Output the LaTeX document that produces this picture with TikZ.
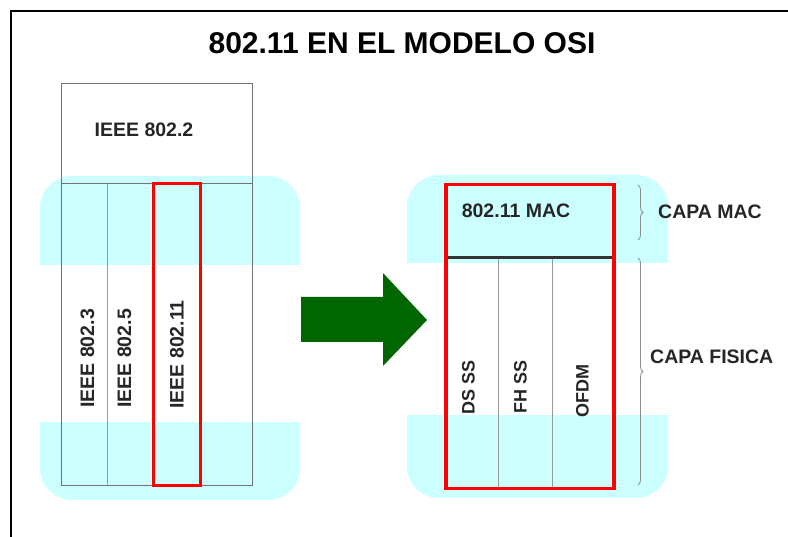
\documentclass[tikz,border=0pt]{standalone}
\usepackage{fontspec}
\setmainfont{Liberation Sans}
\usetikzlibrary{positioning,calc,decorations.pathreplacing}
\definecolor{hilite}{HTML}{CCFFFF}
\definecolor{arrowgreen}{HTML}{006600}
\definecolor{txtgray}{HTML}{262626}

\begin{document}
\begin{tikzpicture}[x=1pt,y=-1pt,
  box/.style={draw=black!55,line width=1pt,inner sep=0pt},
  col/.style={draw=black!40,line width=0.8pt,inner sep=0pt},
  redbox/.style={draw=red,line width=3.5pt,inner sep=0pt},
  lbl/.style={font=\fontsize{19.5}{20}\selectfont\bfseries,text=txtgray,inner sep=0pt},
  vlbl/.style={lbl,rotate=90},
  band/.style={fill=hilite,rounded corners=32pt},
  bracket/.style={decorate,decoration={brace,amplitude=5pt},draw=black!45,line width=0.8pt}]
\useasboundingbox (0,0) rectangle (788,537);
% frame and title
\draw[line width=2pt] (11,537) -- (11,11) -- (788,11);
\node (title) at (402,43) {\fontsize{30}{32}\selectfont\bfseries 802.11 EN EL MODELO OSI};

% highlighted bands
\fill[band] (40,176) rectangle (300,500);
\fill[white] (38,265) rectangle (302,422);
\fill[band] (407,175) rectangle (668,498);
\fill[white] (405,263) rectangle (670,415);

% left stack
\node[box,minimum width=191pt,minimum height=100pt,anchor=north west] (llc) at (61,83) {};
\node[lbl] (llctxt) at (144,130) {IEEE 802.2};
\foreach \n/\x/\w in {c1/61/46,c2/107/46,c3/153/47,c4/200/52}
  \node[col,minimum width=\w pt,minimum height=302pt,anchor=north west] (\n) at (\x,183) {};
\draw[box,fill=none] (llc.south west) rectangle (c4.south east);
\node[vlbl] (t3) at ([xshift=3pt,yshift=-24pt]c1.center) {IEEE 802.3};
\node[vlbl] (t5) at ([xshift=-6pt,yshift=-24pt]c2.center) {IEEE 802.5};
\node[vlbl] (t11) at ([yshift=-20pt]c3.center) {IEEE 802.11};
\node[redbox,minimum width=47pt,minimum height=302pt] (sel) at (c3.center) {};

% arrow
\fill[arrowgreen] (301,297) -- (383,297) -- (383,273) -- (427,320) -- (383,366) -- (383,342) -- (301,342) -- cycle;

% right stack
\node[inner sep=0pt,minimum width=168pt,minimum height=74pt,anchor=north west] (mac) at (444,183) {};
\node[lbl] (mactxt) at (516,211) {802.11 MAC};
\foreach \n/\x/\w in {d1/444/54,d2/498/54,d3/552/60}
  \node[col,minimum width=\w pt,minimum height=230pt,anchor=north west] (\n) at (\x,257) {};
\draw[line width=2.5pt,black!80] (mac.south west) -- (mac.south east);
\node[vlbl,font=\fontsize{18}{19}\selectfont\bfseries] (ds) at ([xshift=-3pt,yshift=-15pt]d1.center) {DS SS};
\node[vlbl,font=\fontsize{18}{19}\selectfont\bfseries] (fh) at ([xshift=-5pt,yshift=-15pt]d2.center) {FH SS};
\node[vlbl,font=\fontsize{18}{19}\selectfont\bfseries] (ofdm) at ([yshift=-19pt]d3.center) {OFDM};
\node[redbox,minimum width=168pt,minimum height=304pt,anchor=north west] (phy) at (444,183) {};

% braces and layer names
\coordinate (macA) at (638,185);
\coordinate (macB) at (638,240);
\coordinate (phyA) at (638,258);
\coordinate (phyB) at (638,485);
\draw[bracket] (macA) -- (macB);
\draw[bracket] (phyA) -- (phyB);
\node[lbl,anchor=west] (capamac) at (658,212) {CAPA MAC};
\node[lbl,anchor=west] (capafis) at (650,357) {CAPA FISICA};
\end{tikzpicture}
\end{document}
